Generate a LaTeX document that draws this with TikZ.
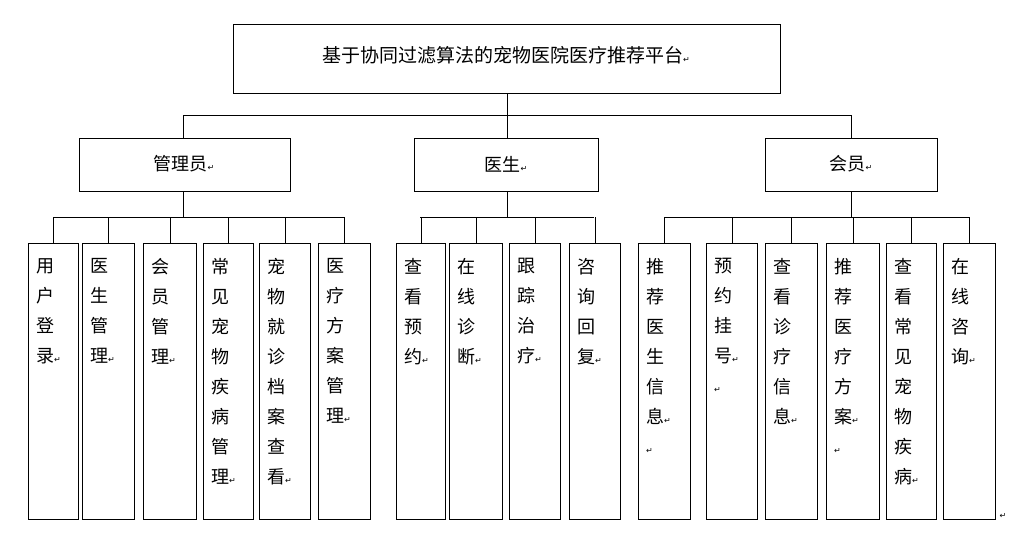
\documentclass[tikz,border=0pt]{standalone}
\usepackage{fontspec}
\setmainfont{Noto Sans CJK SC}
\newfontfamily\dvs{DejaVu Sans}
\begin{document}
\begin{tikzpicture}[x=1pt,y=-1pt,
  box/.style={draw,line width=0.8pt,anchor=north west,inner sep=0pt},
  ln/.style={line width=0.8pt}]
\useasboundingbox (0,0) rectangle (1035,536);
\newcommand\ret{{\dvs\fontsize{8}{8}\selectfont ↵}}
\node[box,minimum width=547pt,minimum height=69pt] (top) at (233,24) {};
\node[font=\fontsize{19}{19}\selectfont] at (506,55) {基于协同过滤算法的宠物医院医疗推荐平台\ret};
\node[box,minimum width=211pt,minimum height=53pt] (a) at (79,138) {};
\node[font=\fontsize{18}{18}\selectfont] at (184,164) {管理员\ret};
\node[box,minimum width=184pt,minimum height=53pt] (b) at (414,138) {};
\node[font=\fontsize{18}{18}\selectfont] at (506,164) {医生\ret};
\node[box,minimum width=172pt,minimum height=53pt] (c) at (765,138) {};
\node[font=\fontsize{18}{18}\selectfont] at (851,164) {会员\ret};
\coordinate (j0) at (507,115);
\draw[ln] (top.south -| j0) -- (j0);
\draw[ln] (183,115) -- (851,115);
\draw[ln] (183,115) -- (183,138);
\draw[ln] (507,115) -- (507,138);
\draw[ln] (851,115) -- (851,138);
\newcommand\leaf[5]{%
  \node[box,minimum width=#3-#2,minimum height=276pt] (#1) at (#2,243) {};
  \begin{scope}
    \clip (#2,243) rectangle (#3,519);
    \node[anchor=north west,inner sep=0pt,align=left,font=\fontsize{18}{30}\selectfont] at (#2+8,258) {#4};
  \end{scope}
  \draw[ln] (#1.north) -- (#1.north |- 0,#5);}
% admin
\draw[ln] (183,191) -- (183,217);
\draw[ln] (53,217) -- (345,217);
\leaf{l1}{28}{78}{用\\户\\登\\录\ret}{217}
\leaf{l2}{82}{134}{医\\生\\管\\理\ret}{217}
\leaf{l3}{143}{196}{会\\员\\管\\理\ret}{217}
\leaf{l4}{203}{253}{常\\见\\宠\\物\\疾\\病\\管\\理\ret}{217}
\leaf{l5}{259}{310}{宠\\物\\就\\诊\\档\\案\\查\\看\ret}{217}
\leaf{l6}{318}{370}{医\\疗\\方\\案\\管\\理\ret}{217}
% doctor
\draw[ln] (507,191) -- (507,217);
\draw[ln] (420,217) -- (594,217);
\leaf{d1}{396}{445}{查\\看\\预\\约\ret}{217}
\leaf{d2}{449}{502}{在\\线\\诊\\断\ret}{217}
\leaf{d3}{509}{560}{跟\\踪\\治\\疗\ret}{217}
\leaf{d4}{569}{620}{咨\\询\\回\\复\ret}{217}
% member
\draw[ln] (851,191) -- (851,217);
\draw[ln] (664,217) -- (969,217);
\leaf{m1}{638}{690}{推\\荐\\医\\生\\信\\息\ret\\\ret}{217}
\leaf{m2}{706}{757}{预\\约\\挂\\号\ret\\\ret}{217}
\leaf{m3}{765}{817}{查\\看\\诊\\疗\\信\\息\ret}{217}
\leaf{m4}{826}{879}{推\\荐\\医\\疗\\方\\案\ret\\\ret}{217}
\leaf{m5}{886}{936}{查\\看\\常\\见\\宠\\物\\疾\\病\ret}{217}
\leaf{m6}{943}{995}{在\\线\\咨\\询\ret}{217}
\node[inner sep=0pt] (endmark) at (1003,516) {\ret};
\end{tikzpicture}
\end{document}
